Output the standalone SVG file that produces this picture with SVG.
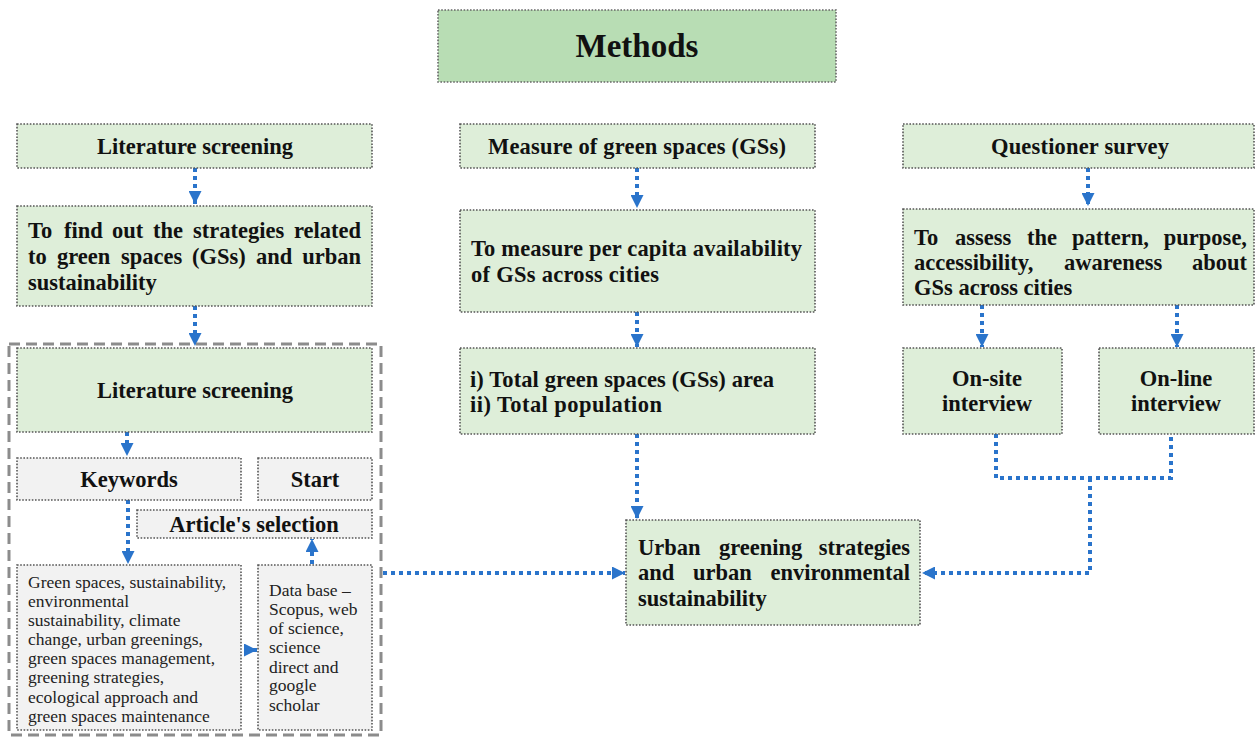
<svg xmlns="http://www.w3.org/2000/svg" width="1256" height="738" viewBox="0 0 1256 738">
<defs>
<style>
.g{fill:#deeed9;stroke:#555;stroke-width:1.6;stroke-dasharray:1.6 1.6}
.gm{fill:#b8ddb4;stroke:#666;stroke-width:1.6;stroke-dasharray:1.6 1.6}
.gr{fill:#f2f2f2;stroke:#555;stroke-width:1.6;stroke-dasharray:1.6 1.6}
.outer{fill:none;stroke:#8c8c8c;stroke-width:3;stroke-dasharray:11 6}
.b{font-family:"Liberation Serif","Times New Roman",serif;font-weight:bold;font-size:22.5px;fill:#111}
.bc{font-family:"Liberation Serif","Times New Roman",serif;font-weight:bold;font-size:22.5px;fill:#111;text-anchor:middle}
.be{font-family:"Liberation Serif","Times New Roman",serif;font-weight:bold;font-size:22.5px;fill:#111;text-anchor:end}
.r{font-family:"Liberation Serif","Times New Roman",serif;font-size:17.5px;fill:#222}
.c{fill:none;stroke:#2a74cb;stroke-width:4;stroke-dasharray:4 4}
</style>
<marker id="ah" viewBox="0 0 10 10" refX="10" refY="5" markerWidth="13" markerHeight="13" markerUnits="userSpaceOnUse" orient="auto">
<path d="M0,0 L10,5 L0,10 z" fill="#2a74cb"/>
</marker>
</defs>
<rect width="1256" height="738" fill="#fff"/>

<g id="connectors">
<path class="c" d="M195,168 V204" marker-end="url(#ah)"/>
<path class="c" d="M195,306 V346" marker-end="url(#ah)"/>
<path class="c" d="M127,432 V456" marker-end="url(#ah)"/>
<path class="c" d="M128,500 V564" marker-end="url(#ah)"/>
<path class="c" d="M245,650 H257" marker-end="url(#ah)"/>
<path class="c" d="M312,564 V539" marker-end="url(#ah)"/>
<path class="c" d="M383,573 H625" marker-end="url(#ah)"/>
<path class="c" d="M637,168 V208" marker-end="url(#ah)"/>
<path class="c" d="M637,312 V347" marker-end="url(#ah)"/>
<path class="c" d="M637,434 V519" marker-end="url(#ah)"/>
<path class="c" d="M1088,168 V206" marker-end="url(#ah)"/>
<path class="c" d="M982,305 V347" marker-end="url(#ah)"/>
<path class="c" d="M1177,305 V347" marker-end="url(#ah)"/>
<path class="c" d="M996,434 V478 H1171 V434"/>
<path class="c" d="M1090,478 V573 H922" marker-end="url(#ah)"/>
</g>

<g id="methods">
<rect class="gm" x="438" y="10" width="398" height="72"/>
<text class="bc" x="637" y="57" style="font-size:33px">Methods</text>
</g>

<g id="lit-top">
<rect class="g" x="17" y="124" width="355" height="44"/>
<text class="bc" x="195" y="154" textLength="196">Literature screening</text>
</g>

<g id="find-out">
<rect class="g" x="17" y="206" width="355" height="100"/>
<text class="b" y="238"><tspan x="28">To</tspan><tspan x="64">find</tspan><tspan x="112">out</tspan><tspan x="153">the</tspan><tspan x="193">strategies</tspan></text>
<text class="be" x="361" y="238">related</text>
<text class="b" y="264"><tspan x="28">to</tspan><tspan x="57">green</tspan><tspan x="121">spaces</tspan><tspan x="192">(GSs)</tspan><tspan x="256">and</tspan></text>
<text class="be" x="361" y="264">urban</text>
<text class="b" x="28" y="290">sustainability</text>
</g>

<g id="lit-group">
<rect class="outer" x="9" y="344" width="372" height="391"/>
</g>

<g id="lit-inner">
<rect class="g" x="17" y="348" width="355" height="84"/>
<text class="bc" x="195" y="398" textLength="196">Literature screening</text>
</g>

<g id="keywords">
<rect class="gr" x="17" y="458" width="224" height="42"/>
<text class="bc" x="129" y="487">Keywords</text>
</g>

<g id="start">
<rect class="gr" x="258" y="458" width="114" height="42"/>
<text class="bc" x="315" y="487">Start</text>
</g>

<g id="article">
<rect class="gr" x="137" y="510" width="235" height="28"/>
<text class="bc" x="254" y="532">Article's selection</text>
</g>

<g id="keyword-list">
<rect class="gr" x="17" y="565" width="224" height="165"/>
<text class="r" x="28" y="588">Green spaces, sustainability,</text>
<text class="r" x="28" y="607">environmental</text>
<text class="r" x="28" y="626">sustainability, climate</text>
<text class="r" x="28" y="645">change, urban greenings,</text>
<text class="r" x="28" y="664">green spaces management,</text>
<text class="r" x="28" y="683">greening strategies,</text>
<text class="r" x="28" y="703">ecological approach and</text>
<text class="r" x="28" y="722">green spaces maintenance</text>
</g>

<g id="database">
<rect class="gr" x="258" y="565" width="114" height="165"/>
<text class="r" x="269" y="596">Data base –</text>
<text class="r" x="269" y="615">Scopus, web</text>
<text class="r" x="269" y="634">of science,</text>
<text class="r" x="269" y="653">science</text>
<text class="r" x="269" y="673">direct and</text>
<text class="r" x="269" y="691">google</text>
<text class="r" x="269" y="711">scholar</text>
</g>

<g id="measure">
<rect class="g" x="460" y="124" width="355" height="44"/>
<text class="bc" x="637" y="154" textLength="298">Measure of green spaces (GSs)</text>
</g>

<g id="per-capita">
<rect class="g" x="460" y="210" width="355" height="102"/>
<text class="b" x="471" y="256" textLength="331">To measure per capita availability</text>
<text class="b" x="471" y="282" textLength="188">of GSs across cities</text>
</g>

<g id="totals">
<rect class="g" x="460" y="348" width="355" height="86"/>
<text class="b" x="470" y="387" textLength="304">i) Total green spaces (GSs) area</text>
<text class="b" x="470" y="412" textLength="192">ii) Total population</text>
</g>

<g id="urban">
<rect class="g" x="626" y="520" width="294" height="105"/>
<text class="b" y="555"><tspan x="638">Urban</tspan><tspan x="719">greening</tspan></text>
<text class="be" x="910" y="555">strategies</text>
<text class="b" y="580"><tspan x="638">and</tspan><tspan x="693">urban</tspan></text>
<text class="be" x="910" y="580">environmental</text>
<text class="b" x="638" y="606">sustainability</text>
</g>

<g id="questioner">
<rect class="g" x="903" y="124" width="351" height="44"/>
<text class="bc" x="1080" y="154" textLength="178">Questioner survey</text>
</g>

<g id="assess">
<rect class="g" x="903" y="209" width="351" height="96"/>
<text class="b" y="245"><tspan x="914">To</tspan><tspan x="955">assess</tspan><tspan x="1027">the</tspan><tspan x="1072">pattern,</tspan></text>
<text class="be" x="1247" y="245">purpose,</text>
<text class="b" y="270"><tspan x="914">accessibility,</tspan><tspan x="1064">awareness</tspan></text>
<text class="be" x="1247" y="270">about</text>
<text class="b" x="914" y="295">GSs across cities</text>
</g>

<g id="onsite">
<rect class="g" x="903" y="348" width="159" height="86"/>
<text class="bc" x="987" y="386">On-site</text>
<text class="bc" x="987" y="411">interview</text>
</g>

<g id="online">
<rect class="g" x="1099" y="348" width="155" height="86"/>
<text class="bc" x="1176" y="386">On-line</text>
<text class="bc" x="1176" y="411">interview</text>
</g>
</svg>
